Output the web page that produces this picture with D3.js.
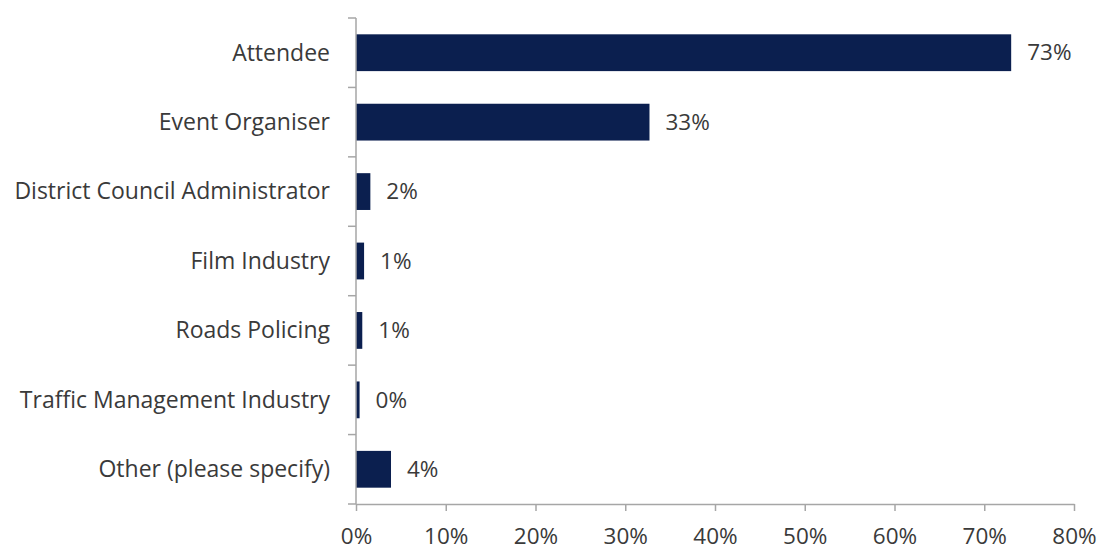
<!DOCTYPE html>
<html>
<head>
<meta charset="utf-8">
<script src="https://cdn.jsdelivr.net/npm/d3@7"></script>
<style>
  html, body { margin: 0; padding: 0; background: #fff; }
  svg { display: block; }
  text { font-family: "Open Sans", "Noto Sans", sans-serif; fill: #3a3a3a; }
</style>
</head>
<body>
<svg id="chart" width="1099" height="551"></svg>
<script>
// Respondent groups and share of responses
const categories = [
  "Attendee",
  "Event Organiser",
  "District Council Administrator",
  "Film Industry",
  "Roads Policing",
  "Traffic Management Industry",
  "Other (please specify)"
];
const shares = [0.730, 0.327, 0.016, 0.009, 0.007, 0.004, 0.039];
const tickValues = [0, 0.1, 0.2, 0.3, 0.4, 0.5, 0.6, 0.7, 0.8];

const svg = d3.select("#chart");
const margin = { top: 18, right: 25, bottom: 47, left: 356 };
const height = 551 - margin.top - margin.bottom;
const fontSize = 22.5;
const catFontSize = 23;

const g = svg.append("g").attr("transform", `translate(${margin.left},${margin.top})`);

const x = d3.scaleLinear().domain([0, 0.8]).range([0, 718]);
const y = d3.scaleBand().domain(categories).range([0, height]).paddingInner(0.47).paddingOuter(0.235);

const fmt = d3.format(".0%");
const axisColor = "#a6a6a6";
const rows = categories.map((c, i) => ({ c, v: shares[i] }));

// Bars
g.selectAll("rect.bar")
  .data(rows)
  .join("rect")
  .attr("class", "bar")
  .attr("x", x(0))
  .attr("y", d => y(d.c))
  .attr("width", d => x(d.v) - x(0))
  .attr("height", y.bandwidth())
  .attr("fill", "#0b1f4f");

// Value labels
g.selectAll("text.val")
  .data(rows)
  .join("text")
  .attr("class", "val")
  .attr("x", d => x(d.v) + 16)
  .attr("y", d => y(d.c) + y.bandwidth() / 2)
  .attr("dy", "0.34em")
  .attr("font-size", fontSize)
  .text(d => fmt(d.v));

// X axis
const xAxis = g.append("g")
  .attr("transform", `translate(0,${height})`)
  .call(d3.axisBottom(x).tickValues(tickValues).tickFormat(fmt).tickSize(7).tickSizeOuter(0));
xAxis.select(".domain").attr("stroke", axisColor).attr("stroke-width", 1.5);
xAxis.selectAll(".tick line").attr("stroke", axisColor).attr("stroke-width", 1.5);
xAxis.selectAll(".tick text")
  .attr("font-size", fontSize)
  .attr("fill", "#3a3a3a")
  .attr("y", 40)
  .attr("dy", null)
  .style("font-family", "\"Open Sans\", sans-serif");

// Y axis: ticks fall between categories
const yAxisG = g.append("g");
yAxisG.append("line")
  .attr("x1", 0).attr("x2", 0).attr("y1", 0).attr("y2", height)
  .attr("stroke", axisColor).attr("stroke-width", 1.5);
const bounds = d3.range(categories.length + 1).map(i => i * (height / categories.length));
yAxisG.selectAll("line.tk")
  .data(bounds)
  .join("line")
  .attr("class", "tk")
  .attr("x1", -8).attr("x2", 0)
  .attr("y1", d => d).attr("y2", d => d)
  .attr("stroke", axisColor).attr("stroke-width", 1.5);

// Category labels
g.selectAll("text.cat")
  .data(categories)
  .join("text")
  .attr("class", "cat")
  .attr("x", -26)
  .attr("y", d => y(d) + y.bandwidth() / 2)
  .attr("dy", "0.34em")
  .attr("text-anchor", "end")
  .attr("font-size", catFontSize)
  .text(d => d);
</script>
</body>
</html>
